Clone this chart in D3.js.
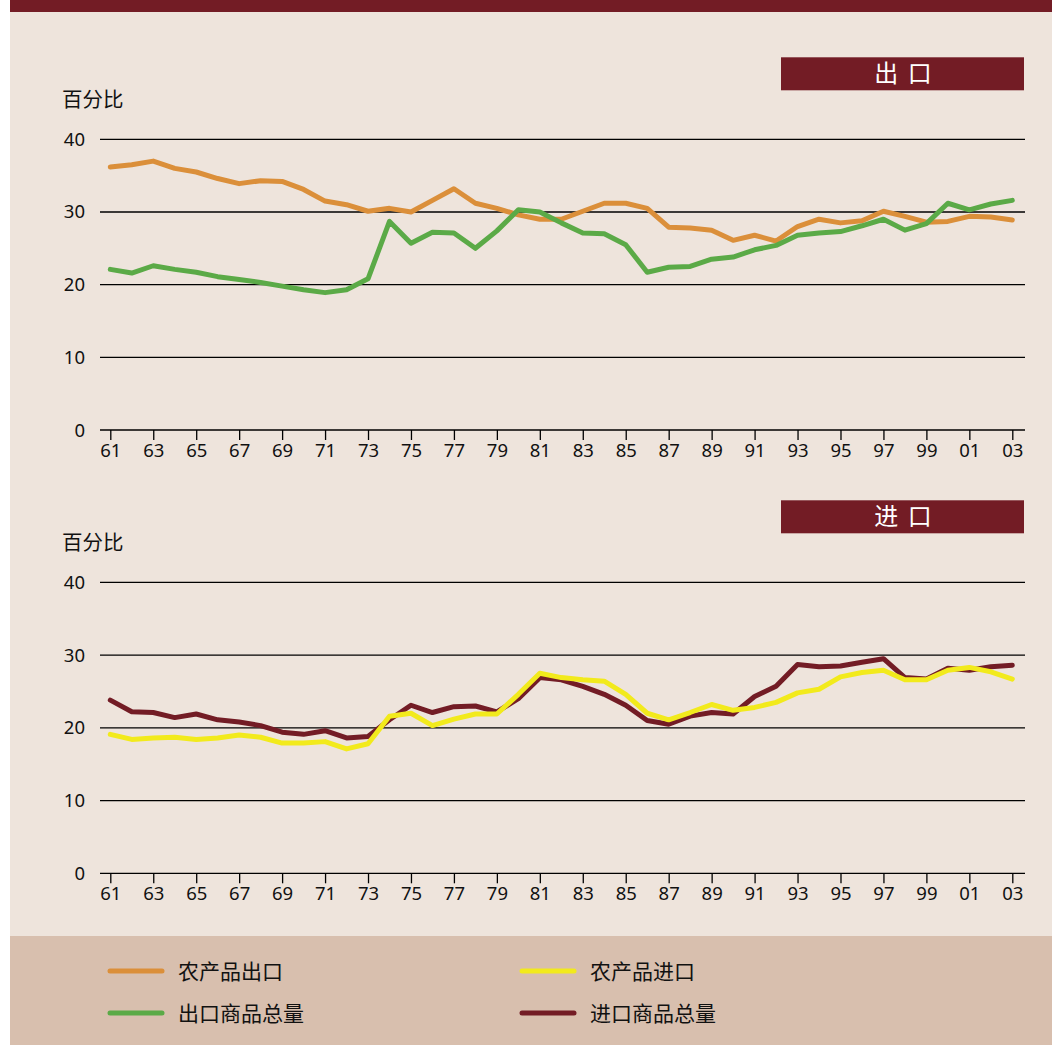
<!DOCTYPE html>
<html>
<head>
<meta charset="utf-8">
<script src="https://cdn.jsdelivr.net/npm/d3@7"></script>
<style>
  body { margin: 0; background: #ffffff; }
  svg { display: block; }
  text { font-family: "Noto Sans", "Noto Sans CJK SC", sans-serif; fill: #111; }
</style>
</head>
<body>
<svg id="chart" width="1052" height="1045"></svg>
<script>
var years = d3.range(1961, 2004),
    tickYears = d3.range(1961, 2004, 2),
    yTicks = [0, 10, 20, 30, 40];

// 出口 (exports), percent
var agriExport = [36.2, 36.5, 37.0, 36.0, 35.5, 34.6, 33.9, 34.3, 34.2, 33.1,
    31.5, 31.0, 30.1, 30.5, 30.0, 31.6, 33.2, 31.2, 30.5, 29.6,
    29.0, 29.0, 30.1, 31.2, 31.2, 30.5, 27.9, 27.8, 27.5, 26.1,
    26.8, 26.0, 28.0, 29.0, 28.5, 28.8, 30.1, 29.4, 28.6, 28.7,
    29.4, 29.3, 28.9];
var totalExport = [22.1, 21.6, 22.6, 22.1, 21.7, 21.1, 20.7, 20.3, 19.8, 19.3,
    18.9, 19.3, 20.8, 28.7, 25.7, 27.2, 27.1, 25.0, 27.4, 30.3,
    30.0, 28.5, 27.1, 27.0, 25.5, 21.7, 22.4, 22.5, 23.5, 23.8,
    24.8, 25.4, 26.8, 27.1, 27.3, 28.1, 29.0, 27.5, 28.4, 31.2,
    30.3, 31.1, 31.6];

// 进口 (imports), percent
var agriImport = [19.1, 18.4, 18.6, 18.7, 18.4, 18.6, 19.0, 18.7, 17.9, 17.9,
    18.1, 17.1, 17.8, 21.6, 22.0, 20.3, 21.2, 21.9, 21.9, 24.6,
    27.5, 26.9, 26.6, 26.4, 24.6, 22.0, 21.1, 22.1, 23.2, 22.4,
    22.8, 23.5, 24.8, 25.3, 27.0, 27.6, 27.9, 26.6, 26.6, 27.9,
    28.3, 27.7, 26.7];
var totalImport = [23.8, 22.2, 22.1, 21.4, 21.9, 21.1, 20.8, 20.3, 19.4, 19.1,
    19.6, 18.6, 18.8, 21.1, 23.1, 22.1, 22.9, 23.0, 22.2, 24.0,
    26.9, 26.6, 25.7, 24.6, 23.1, 21.0, 20.5, 21.6, 22.1, 21.9,
    24.3, 25.7, 28.7, 28.4, 28.5, 29.0, 29.5, 26.9, 26.7, 28.2,
    27.9, 28.4, 28.6];

var C_ORANGE = "#DB8F3A",
    C_GREEN = "#5BAA47",
    C_YELLOW = "#F2EA1C",
    C_MAROON = "#731C25",
    C_BG = "#EEE4DC",
    C_LEGEND = "#D8BFAE";

var svg = d3.select("#chart");

svg.append("rect").attr("x", 10).attr("y", 0).attr("width", 1042).attr("height", 1045).attr("fill", C_BG);
svg.append("rect").attr("x", 10).attr("y", 0).attr("width", 1042).attr("height", 12).attr("fill", C_MAROON);
svg.append("rect").attr("x", 10).attr("y", 936).attr("width", 1042).attr("height", 109).attr("fill", C_LEGEND);

var x = d3.scaleLinear().domain([1961, 2003]).range([110.3, 1012.3]);

function panel(top, bottom, title, series) {
    var y = d3.scaleLinear().domain([0, 40]).range([bottom, top]);
    var g = svg.append("g");

    // title box
    var boxY = top - 82;
    g.append("rect").attr("x", 781).attr("y", boxY).attr("width", 243).attr("height", 33).attr("fill", C_MAROON);
    g.append("text").attr("x", 904).attr("y", boxY + 25)
        .attr("text-anchor", "middle")
        .style("font-family", "'Noto Sans CJK SC'")
        .style("font-size", "24px").style("fill", "#ffffff")
        .style("letter-spacing", "2px")
        .text(title);

    g.append("text").attr("x", 62).attr("y", top - 32)
        .style("font-family", "'Noto Sans CJK SC'")
        .style("font-size", "20.5px")
        .text("百分比");

    // gridlines
    g.selectAll(".grid").data(yTicks).enter().append("line")
        .attr("x1", 100).attr("x2", 1025)
        .attr("y1", d => y(d)).attr("y2", d => y(d))
        .attr("stroke", "#000").attr("stroke-width", 1.3);

    g.selectAll(".ylab").data(yTicks).enter().append("text")
        .attr("x", 85).attr("y", d => y(d) + 6.5)
        .attr("text-anchor", "end")
        .style("font-size", "18.5px")
        .text(d => d);

    var xaxis = d3.axisBottom(x).tickValues(tickYears).tickSize(10).tickPadding(4)
        .tickFormat(d => String(d).slice(2));
    var ax = g.append("g").attr("transform", "translate(0," + bottom + ")").call(xaxis);
    ax.select(".domain").remove();
    ax.selectAll(".tick line").attr("stroke", "#000").attr("stroke-width", 1.3);
    ax.selectAll(".tick text").style("font-size", "18.5px").style("font-family", "'Noto Sans'").attr("fill", "#111");

    var line = d3.line().x((d, i) => x(years[i])).y(d => y(d));
    series.forEach(function (s) {
        g.append("path").datum(s.values)
            .attr("d", line)
            .attr("fill", "none")
            .attr("stroke", s.color)
            .attr("stroke-width", 5)
            .attr("stroke-linejoin", "round")
            .attr("stroke-linecap", "round");
    });
}

panel(139.3, 430, "出 口", [
    { values: agriExport, color: C_ORANGE },
    { values: totalExport, color: C_GREEN }
]);
panel(582.3, 873.3, "进 口", [
    { values: totalImport, color: C_MAROON },
    { values: agriImport, color: C_YELLOW }
]);

// legend
var legendItems = [
    { label: "农产品出口", color: C_ORANGE, col: 0, row: 0 },
    { label: "出口商品总量", color: C_GREEN, col: 0, row: 1 },
    { label: "农产品进口", color: C_YELLOW, col: 1, row: 0 },
    { label: "进口商品总量", color: C_MAROON, col: 1, row: 1 }
];
var lg = svg.append("g").selectAll("g").data(legendItems).enter().append("g")
    .attr("transform", d => "translate(" + (110 + d.col * 412) + "," + (971 + d.row * 42) + ")");
lg.append("line").attr("x1", 0).attr("x2", 52).attr("y1", 0).attr("y2", 0)
    .attr("stroke", d => d.color).attr("stroke-width", 5).attr("stroke-linecap", "round");
lg.append("text").attr("x", 68).attr("y", 8)
    .style("font-family", "'Noto Sans CJK SC'")
    .style("font-size", "21px")
    .text(d => d.label);
</script>
</body>
</html>
